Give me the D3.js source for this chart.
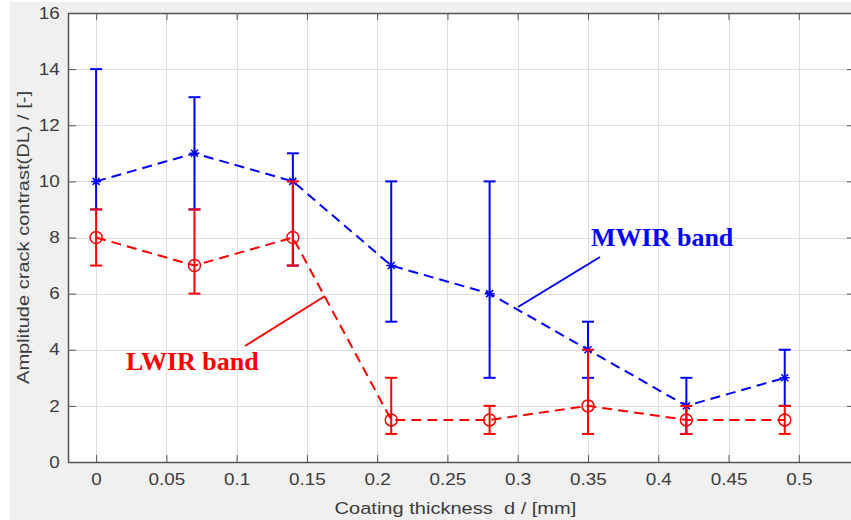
<!DOCTYPE html>
<html>
<head>
<meta charset="utf-8">
<script src="https://cdn.jsdelivr.net/npm/d3@7"></script>
<style>
  body { margin: 0; background: #fff; }
  svg { display: block; }
</style>
</head>
<body>
<svg id="chart" width="851" height="520"></svg>
<script>
const thickness = [0, 0.07, 0.14, 0.21, 0.28, 0.35, 0.42, 0.49];
const mwirValues = [10, 11, 10, 7, 6, 4, 2, 3];
const mwirLow = [9, 9, 7, 5, 3, 3, 1, 2];
const mwirHigh = [14, 13, 11, 10, 10, 5, 3, 4];
const lwirValues = [8, 7, 8, 1.5, 1.5, 2, 1.5, 1.5];
const lwirLow = [7, 6, 7, 1, 1, 1, 1, 1];
const lwirHigh = [9, 9, 10, 3, 2, 4, 2, 2];
const xTicks = [0, 0.05, 0.1, 0.15, 0.2, 0.25, 0.3, 0.35, 0.4, 0.45, 0.5];
const yTicks = [0, 2, 4, 6, 8, 10, 12, 14, 16];

const svg = d3.select("#chart");
const margin = { top: 13, left: 68 };
const plotW = 787, plotH = 449;
const stretch = 1.18; // sans text in the screenshot is wider than Liberation Sans

// figure background (thin white border on top/left like the screenshot)
svg.append("rect").attr("x", 10).attr("y", 2).attr("width", 841).attr("height", 518).attr("fill", "#f0f0f0");

const x = d3.scaleLinear().domain([-0.02, 0.54]).range([margin.left, margin.left + plotW]);
const y = d3.scaleLinear().domain([0, 16]).range([margin.top + plotH, margin.top]);

svg.append("rect")
    .attr("x", margin.left).attr("y", margin.top)
    .attr("width", plotW).attr("height", plotH)
    .attr("fill", "#fff");

const grid = svg.append("g").attr("stroke", "#dedede").attr("stroke-width", 1);
grid.selectAll(".vg").data(xTicks).enter().append("line")
    .attr("x1", d => Math.round(x(d)) + 0.5).attr("x2", d => Math.round(x(d)) + 0.5)
    .attr("y1", margin.top).attr("y2", margin.top + plotH);
grid.selectAll(".hg").data(yTicks).enter().append("line")
    .attr("y1", d => Math.round(y(d)) + 0.5).attr("y2", d => Math.round(y(d)) + 0.5)
    .attr("x1", margin.left).attr("x2", margin.left + plotW);

const axisColor = "#555";
const labelColor = "#3c3c3c";

function styleAxis(g) {
    g.selectAll(".domain").attr("stroke", axisColor).attr("stroke-width", 1.5);
    g.selectAll(".tick line").attr("stroke", axisColor).attr("stroke-width", 1);
    g.selectAll(".tick text").attr("fill", labelColor)
        .attr("font-family", "'Liberation Sans', Arial, sans-serif").attr("font-size", 16);
}

const fmt = d => String(d);

svg.append("g")
    .attr("transform", `translate(0,${margin.top + plotH})`)
    .call(d3.axisBottom(x).tickValues(xTicks).tickFormat(fmt).tickSizeInner(-7).tickSizeOuter(0).tickPadding(12))
    .call(styleAxis)
    .selectAll(".tick text").attr("transform", `scale(${stretch},1)`);
svg.append("g")
    .attr("transform", `translate(0,${margin.top})`)
    .call(d3.axisTop(x).tickValues(xTicks).tickFormat("").tickSizeInner(-7).tickSizeOuter(0))
    .call(styleAxis);
svg.append("g")
    .attr("transform", `translate(${margin.left},0)`)
    .call(d3.axisLeft(y).tickValues(yTicks).tickFormat(fmt).tickSizeInner(-8).tickSizeOuter(0).tickPadding(7))
    .call(styleAxis)
    .selectAll(".tick text").attr("transform", `scale(${stretch},1)`);
svg.append("g")
    .attr("transform", `translate(${margin.left + plotW},0)`)
    .call(d3.axisRight(y).tickValues(yTicks).tickFormat("").tickSizeInner(-8).tickSizeOuter(0))
    .call(styleAxis);

// axis titles
svg.append("text")
    .attr("transform", `translate(${x(0.25) + 8},514) scale(${stretch},1)`)
    .attr("text-anchor", "middle")
    .attr("fill", labelColor)
    .attr("font-family", "'Liberation Sans', Arial, sans-serif").attr("font-size", 17)
    .attr("xml:space", "preserve")
    .text("Coating thickness  d / [mm]");
svg.append("text")
    .attr("transform", `translate(29,${margin.top + plotH / 2}) rotate(-90) scale(${stretch},1)`)
    .attr("text-anchor", "middle")
    .attr("fill", labelColor)
    .attr("font-family", "'Liberation Sans', Arial, sans-serif").attr("font-size", 17)
    .text("Amplitude crack contrast(DL) / [-]");

const series = [
    { name: "MWIR", color: "#0000ff", values: mwirValues, low: mwirLow, high: mwirHigh, marker: "star" },
    { name: "LWIR", color: "#ff0000", values: lwirValues, low: lwirLow, high: lwirHigh, marker: "circle" }
];

const line = d3.line().x(d => x(d[0])).y(d => y(d[1]));
const capW = 6;

series.forEach(s => {
    const pts = thickness.map((t, i) => ({ t, v: s.values[i], lo: s.low[i], hi: s.high[i] }));
    const g = svg.append("g").attr("stroke", s.color).attr("fill", "none").attr("stroke-width", 2);

    g.append("path")
        .attr("d", line(pts.map(p => [p.t, p.v])))
        .attr("stroke-dasharray", "10,6");

    const eb = g.selectAll(".eb").data(pts).enter().append("g");
    eb.append("line")
        .attr("x1", p => x(p.t)).attr("x2", p => x(p.t))
        .attr("y1", p => y(p.lo)).attr("y2", p => y(p.hi));
    eb.append("line")
        .attr("x1", p => x(p.t) - capW).attr("x2", p => x(p.t) + capW)
        .attr("y1", p => y(p.lo)).attr("y2", p => y(p.lo));
    eb.append("line")
        .attr("x1", p => x(p.t) - capW).attr("x2", p => x(p.t) + capW)
        .attr("y1", p => y(p.hi)).attr("y2", p => y(p.hi));

    if (s.marker === "circle") {
        g.selectAll(".mk").data(pts).enter().append("circle")
            .attr("cx", p => x(p.t)).attr("cy", p => y(p.v)).attr("r", 6)
            .attr("stroke-width", 1.5);
    } else {
        const r = 5;
        g.selectAll(".mk").data(pts).enter().append("path")
            .attr("stroke-width", 1.5)
            .attr("d", p => {
                const cx = x(p.t), cy = y(p.v), k = r * 0.7;
                return `M${cx - r},${cy}H${cx + r}M${cx},${cy - r}V${cy + r}` +
                    `M${cx - k},${cy - k}L${cx + k},${cy + k}M${cx - k},${cy + k}L${cx + k},${cy - k}`;
            });
    }
});

// annotations
const notes = [
    { text: "MWIR band", color: "#0000ff", tx: 591, ty: 246, from: [600, 257], to: [518, 307] },
    { text: "LWIR band", color: "#ff0000", tx: 126, ty: 370, from: [245, 346], to: [325, 296] }
];
notes.forEach(n => {
    svg.append("line")
        .attr("x1", n.from[0]).attr("y1", n.from[1])
        .attr("x2", n.to[0]).attr("y2", n.to[1])
        .attr("stroke", n.color).attr("stroke-width", 2);
    svg.append("text")
        .attr("x", n.tx).attr("y", n.ty)
        .attr("fill", n.color)
        .attr("font-family", "'Liberation Serif', 'Times New Roman', serif")
        .attr("font-weight", "bold").attr("font-size", 26)
        .text(n.text);
});
</script>
</body>
</html>
